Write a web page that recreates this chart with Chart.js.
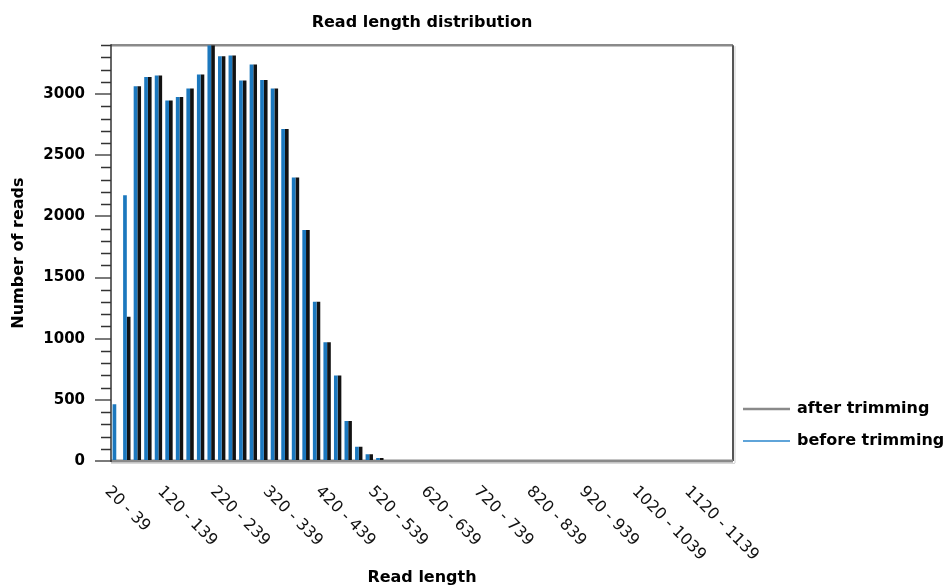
<!DOCTYPE html>
<html><head><meta charset="utf-8">
<script src="https://cdn.jsdelivr.net/npm/chart.js@4/dist/chart.umd.min.js"></script>
<style>html,body{margin:0;padding:0;background:#fff;}#wrap{width:947px;height:587px;position:relative;}</style>
</head><body><div id="wrap"><canvas id="c" width="947" height="587"></canvas></div>
<script>
const categories = ['20 - 39','40 - 59','60 - 79','80 - 99','100 - 119','120 - 139','140 - 159','160 - 179','180 - 199','200 - 219',
'220 - 239','240 - 259','260 - 279','280 - 299','300 - 319','320 - 339','340 - 359','360 - 379','380 - 399','400 - 419',
'420 - 439','440 - 459','460 - 479','480 - 499','500 - 519','520 - 539','540 - 559','560 - 579','580 - 599','600 - 619',
'620 - 639','640 - 659','660 - 679','680 - 699','700 - 719','720 - 739','740 - 759','760 - 779','780 - 799','800 - 819',
'820 - 839','840 - 859','860 - 879','880 - 899','900 - 919','920 - 939','940 - 959','960 - 979','980 - 999','1000 - 1019',
'1020 - 1039','1040 - 1059','1060 - 1079','1080 - 1099','1100 - 1119','1120 - 1139','1140 - 1159','1160 - 1179','1180 - 1199'];
const beforeTrimming = [465,2174,3065,3139,3152,2948,2977,3046,3161,3400,3310,3316,3112,3242,3116,3046,2714,2319,1888,1302,970,700,327,117,55,25,
0,0,0,0,0,0,0,0,0,0,0,0,0,0,0,0,0,0,0,0,0,0,0,0,0,0,0,0,0,0,0,0,0];
const afterTrimming = [0,1179,3065,3139,3152,2948,2977,3046,3161,3400,3310,3316,3112,3242,3116,3046,2714,2319,1888,1302,970,700,327,117,55,25,
0,0,0,0,0,0,0,0,0,0,0,0,0,0,0,0,0,0,0,0,0,0,0,0,0,0,0,0,0,0,0,0,0];
const xTickLabels = ['20 - 39','120 - 139','220 - 239','320 - 339','420 - 439','520 - 539','620 - 639','720 - 739','820 - 839','920 - 939','1020 - 1039','1120 - 1139'];
const yMajorStep = 500;
const yMinorStep = 100;
const yMax = 3400;

const legendColors = {'after trimming':'#8a8a8a','before trimming':'#2a86cc'};

const framePlugin = {
  id:'frame',
  beforeDatasetsDraw(chart){
    const {ctx, chartArea:a, scales:{y}} = chart;
    ctx.save();
    ctx.strokeStyle='#333'; ctx.lineWidth=1.5;
    for(let v=yMinorStep; v<=yMax; v+=yMinorStep){
      if(v % yMajorStep === 0) continue;
      const py = Math.round(y.getPixelForValue(v))+0.5;
      ctx.beginPath(); ctx.moveTo(a.left-10, py); ctx.lineTo(a.left, py); ctx.stroke();
    }
    ctx.strokeStyle='#8a8a8a'; ctx.lineWidth=2.5;
    ctx.beginPath(); ctx.moveTo(a.left, a.top); ctx.lineTo(a.right, a.top); ctx.stroke();
    ctx.strokeStyle='#cfcfcf'; ctx.lineWidth=1;
    ctx.beginPath(); ctx.moveTo(a.right+2, a.top+1); ctx.lineTo(a.right+2, a.bottom+2); ctx.stroke();
    ctx.strokeStyle='#555'; ctx.lineWidth=2;
    ctx.beginPath(); ctx.moveTo(a.right, a.top); ctx.lineTo(a.right, a.bottom); ctx.stroke();
    ctx.strokeStyle='#d8d8d8'; ctx.lineWidth=1;
    ctx.beginPath(); ctx.moveTo(a.left, a.bottom+2.5); ctx.lineTo(a.right+2, a.bottom+2.5); ctx.stroke();
    ctx.strokeStyle='#8a8a8a'; ctx.lineWidth=3;
    ctx.beginPath(); ctx.moveTo(a.left, a.bottom); ctx.lineTo(a.right, a.bottom); ctx.stroke();
    ctx.strokeStyle='#333'; ctx.lineWidth=1.5;
    ctx.beginPath(); ctx.moveTo(a.left, a.top-1); ctx.lineTo(a.left, a.bottom+1); ctx.stroke();
    ctx.restore();
  },
  afterDraw(chart){
    const {ctx, chartArea:a, scales:{x}} = chart;
    ctx.save();
    ctx.font = '16px "DejaVu Sans"';
    ctx.fillStyle = '#111';
    ctx.textAlign='left'; ctx.textBaseline='alphabetic';
    xTickLabels.forEach(lbl=>{
      const idx = categories.indexOf(lbl);
      const cx = x.getPixelForValue(idx);
      ctx.save();
      ctx.translate(cx-12, a.bottom+31);
      ctx.rotate(Math.PI/4);
      ctx.fillText(lbl, 0, 0);
      ctx.restore();
    });
    const items = chart.data.datasets.slice().reverse();
    ctx.font = 'bold 16px "DejaVu Sans"';
    ctx.fillStyle = '#000';
    ctx.textBaseline = 'middle';
    items.forEach((ds,i)=>{
      const ly = a.bottom - 52 + i*32;
      ctx.strokeStyle = legendColors[ds.label];
      ctx.lineWidth = i===0 ? 2.5 : 1.5;
      ctx.beginPath(); ctx.moveTo(a.right+10, ly); ctx.lineTo(a.right+57, ly); ctx.stroke();
      ctx.fillText(ds.label, a.right+64, ly);
    });
    ctx.restore();
  }
};

new Chart(document.getElementById('c'), {
  type:'bar',
  data:{
    labels:categories,
    datasets:[
      {label:'before trimming', data:beforeTrimming, backgroundColor:'#1c78be', categoryPercentage:0.7, barPercentage:1.0},
      {label:'after trimming', data:afterTrimming, backgroundColor:'#121212', categoryPercentage:0.7, barPercentage:1.0}
    ]
  },
  options:{
    responsive:false, animation:false, devicePixelRatio:1,
    layout:{padding:{left:0,right:214,top:0,bottom:0}},
    plugins:{
      legend:{display:false},
      tooltip:{enabled:false},
      title:{display:true, fullSize:false, text:'Read length distribution', color:'#000',
        font:{family:'DejaVu Sans', size:16, weight:'bold', lineHeight:1.2}, padding:{top:13,bottom:13}}
    },
    scales:{
      x:{
        ticks:{display:false},
        grid:{display:false, drawTicks:false},
        border:{display:false},
        title:{display:true, text:'Read length', color:'#000', font:{family:'DejaVu Sans', size:16, weight:'bold', lineHeight:1.2}, padding:{top:0,bottom:0}},
        afterFit(s){ s.height = 126; }
      },
      y:{
        min:0, max:yMax,
        ticks:{stepSize:yMinorStep, autoSkip:false, padding:10, color:'#000',
          font:{family:'DejaVu Sans', size:15, weight:'bold'},
          callback:(v)=> (v % yMajorStep === 0 ? String(v) : '')},
        grid:{drawOnChartArea:false, tickLength:16,
          tickColor:(c)=> (c.tick && c.tick.value % yMajorStep === 0 ? '#7a7a7a' : 'rgba(0,0,0,0)'),
          tickWidth:2, color:'#7a7a7a', lineWidth:2},
        border:{display:false},
        title:{display:true, text:'Number of reads', color:'#000', font:{family:'DejaVu Sans', size:16, weight:'bold', lineHeight:1.2}, padding:{top:9,bottom:0}},
        afterFit(s){ s.width = 111; }
      }
    }
  },
  plugins:[framePlugin]
});
</script></body></html>
